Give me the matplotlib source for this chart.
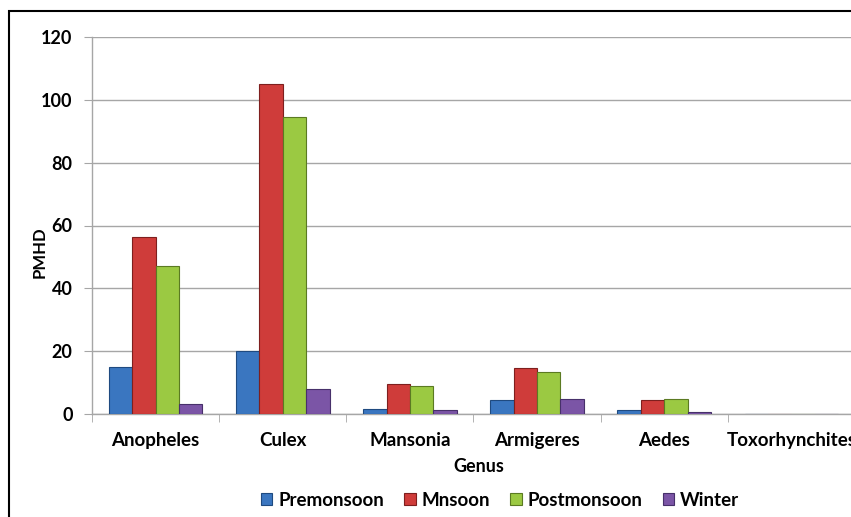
import numpy as np
import matplotlib
matplotlib.use("Agg")
import matplotlib.pyplot as plt
from matplotlib.patches import Rectangle

# PMHD per genus, by season
genus = ["Anopheles", "Culex", "Mansonia", "Armigeres", "Aedes", "Toxorhynchites"]
premonsoon = [15.1, 20.2, 1.7, 4.5, 1.4, 0.1]
mnsoon = [56.4, 105.0, 9.7, 14.6, 4.4, 0.1]
postmonsoon = [47.0, 94.4, 8.9, 13.3, 4.7, 0.1]
winter = [3.2, 8.0, 1.2, 4.8, 0.5, 0.0]

series = [("Premonsoon", premonsoon, "#3a76c0", "#1f4a80"),
          ("Mnsoon", mnsoon, "#cf3c3a", "#7e1f1e"),
          ("Postmonsoon", postmonsoon, "#9bc942", "#5b7a22"),
          ("Winter", winter, "#7b55a6", "#47306a")]

plt.rcParams["font.family"] = ["Lato", "DejaVu Sans"]
plt.rcParams["font.weight"] = "bold"

fig = plt.figure(figsize=(8.51, 5.17), dpi=100)
ax = fig.add_axes([92 / 851, 103 / 517, 763 / 851, 377 / 517])

x = np.arange(len(genus))
w = 0.184
for i, (name, vals, col, edge) in enumerate(series):
    ax.bar(x + (i - 1.5) * w, vals, w, color=col, edgecolor=edge,
           linewidth=0.8, label=name, zorder=3)

ax.set_xlim(-0.5, len(genus) - 0.5)
ax.set_ylim(0, 120)
ax.set_yticks(range(0, 121, 20))
ax.grid(axis="y", color="#a6a6a6", linewidth=1, zorder=0)

for s in ["top", "right"]:
    ax.spines[s].set_visible(False)
for s in ["left", "bottom"]:
    ax.spines[s].set_color("#a6a6a6")
    ax.spines[s].set_linewidth(1)

ax.set_xticks(x)
ax.set_xticklabels(genus)
ax.set_xticks(np.arange(-0.5, len(genus)), minor=True)
ax.tick_params(axis="x", which="major", length=0, pad=13, labelsize=13.5)
ax.tick_params(axis="x", which="minor", length=6, color="#a6a6a6", direction="out")
ax.tick_params(axis="y", length=6, color="#a6a6a6", pad=8, labelsize=13)

fig.text(479 / 851, 1 - 467 / 517, "Genus", ha="center", va="center",
         fontsize=13, fontweight="bold")
fig.text(40 / 851, 1 - 252 / 517, "PMHD", ha="center", va="center",
         rotation=90, fontsize=12, fontweight="bold")

fig.legend(loc="center", bbox_to_anchor=(500 / 851, 17 / 517), ncol=4,
           frameon=False, fontsize=13.5, handlelength=0.6, handleheight=0.6,
           handletextpad=0.3, columnspacing=1.1)

# chart border
fig.patches.append(Rectangle((9 / 851, -0.05), 1.1, 1 - 11 / 517 + 0.05,
                             transform=fig.transFigure, fill=False,
                             edgecolor="black", linewidth=1.5, zorder=10))

fig.savefig("out.png", dpi=100)
